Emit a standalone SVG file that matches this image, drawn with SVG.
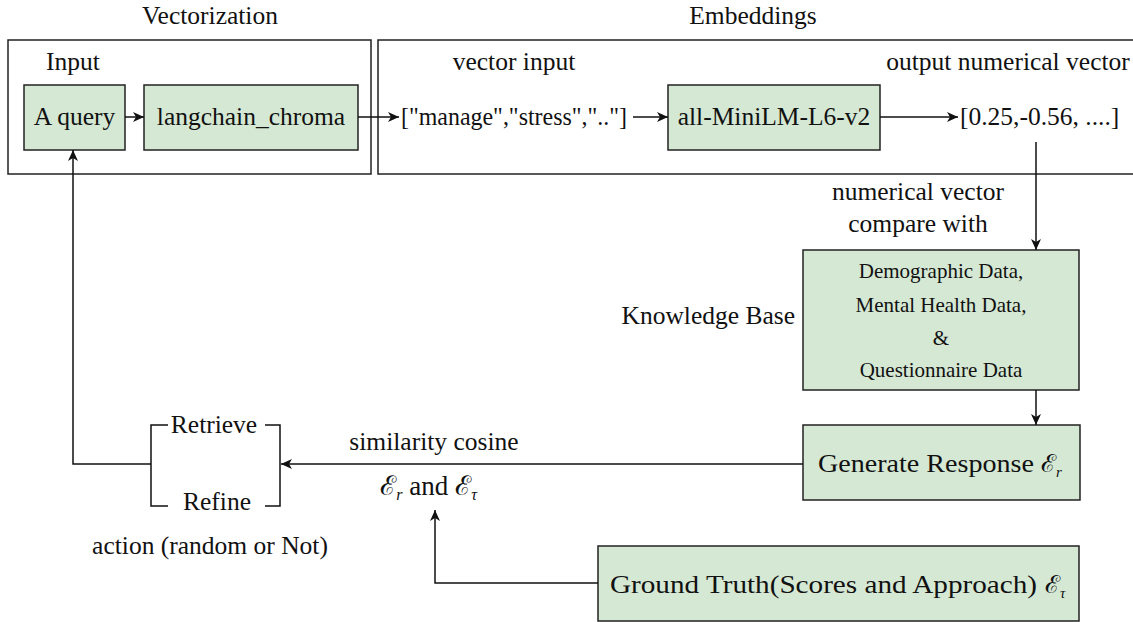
<svg xmlns="http://www.w3.org/2000/svg" width="1133" height="622" viewBox="0 0 1133 622">
<style>
.t{font-family:"Liberation Serif","Times New Roman",serif;font-size:25.5px;fill:#111}
.s{font-family:"Liberation Serif","Times New Roman",serif;font-size:21px;fill:#111}
.m{font-family:"Liberation Serif","DejaVu Serif",serif;font-size:25px;fill:#111}
.frame{fill:#fff;stroke:#222;stroke-width:1.5}
.node{fill:#d5e8d4;stroke:#222;stroke-width:1.5}
.c{fill:none;stroke:#111;stroke-width:1.5}
.cal{font-family:"DejaVu Serif","Noto Sans",serif;font-style:italic}
</style>
<defs>
<marker id="ah" markerUnits="userSpaceOnUse" markerWidth="12" markerHeight="10" refX="11" refY="5" orient="auto">
<path d="M0,0 L11,5 L0,10 L3,5 Z" fill="#111"/>
</marker>
</defs>
<rect width="1133" height="622" fill="#fff"/>
<g id="vectorization">
<text class="t" x="210" y="24" text-anchor="middle">Vectorization</text>
<rect class="frame" x="8" y="40" width="363" height="134"/>
<text class="t" x="73" y="70" text-anchor="middle">Input</text>
</g>
<g id="embeddings">
<text class="t" x="753" y="24" text-anchor="middle">Embeddings</text>
<rect class="frame" x="378" y="40" width="770" height="134"/>
<text class="t" x="514" y="70" text-anchor="middle">vector input</text>
<text class="t" x="1008" y="70" text-anchor="middle">output numerical vector</text>
</g>
<g id="query">
<rect class="node" x="24" y="85" width="101" height="65"/>
<text class="t" x="74.5" y="125" text-anchor="middle">A query</text>
</g>
<g id="langchain">
<rect class="node" x="144" y="85" width="214" height="65"/>
<text class="t" x="251" y="125" text-anchor="middle">langchain_chroma</text>
</g>
<g id="vector-in">
<text class="t" x="401" y="125" textLength="226" lengthAdjust="spacingAndGlyphs">["manage","stress",".."]</text>
</g>
<g id="minilm">
<rect class="node" x="668" y="85" width="212" height="65"/>
<text class="t" x="774" y="125" text-anchor="middle">all-MiniLM-L6-v2</text>
</g>
<g id="vector-out">
<text class="t" x="960" y="125">[0.25,-0.56, ....]</text>
</g>
<g id="compare-label">
<text class="t" x="918" y="200" text-anchor="middle">numerical vector</text>
<text class="t" x="918" y="232" text-anchor="middle">compare with</text>
</g>
<g id="knowledge-base">
<text class="t" x="795" y="324" text-anchor="end">Knowledge Base</text>
<rect class="node" x="803" y="250" width="276" height="140"/>
<text class="s" x="941" y="278" text-anchor="middle">Demographic Data,</text>
<text class="s" x="941" y="312" text-anchor="middle">Mental Health Data,</text>
<text class="s" x="941" y="345" text-anchor="middle">&amp;</text>
<text class="s" x="941" y="377" text-anchor="middle">Questionnaire Data</text>
</g>
<g id="generate">
<rect class="node" x="803" y="425" width="277" height="75"/>
<text class="m" x="818" y="472"><tspan textLength="216" lengthAdjust="spacingAndGlyphs">Generate Response</tspan><tspan class="cal" x="1041">ℰ</tspan><tspan font-size="15" font-style="italic" dy="5">r</tspan></text>
</g>
<g id="ground-truth">
<rect class="node" x="598" y="546" width="481" height="75"/>
<text class="m" x="610" y="593"><tspan textLength="427" lengthAdjust="spacingAndGlyphs">Ground Truth(Scores and Approach)</tspan><tspan class="cal" x="1045">ℰ</tspan><tspan font-size="15" font-style="italic" dy="5">τ</tspan></text>
</g>
<g id="action">
<path class="c" d="M168,425 H151 V506 H168 M265,425 H280 V506 H265"/>
<text class="t" x="214" y="433" text-anchor="middle">Retrieve</text>
<text class="t" x="217" y="510" text-anchor="middle">Refine</text>
<text class="t" x="210" y="554" text-anchor="middle">action (random or Not)</text>
</g>
<g id="similarity-label">
<text class="t" x="434" y="450" text-anchor="middle">similarity cosine</text>
<text class="m" x="380" y="495"><tspan class="cal" font-size="27">ℰ</tspan><tspan font-size="16" font-style="italic" dy="5">r</tspan><tspan dy="-5" font-size="27"> and </tspan><tspan class="cal" font-size="27">ℰ</tspan><tspan font-size="16" font-style="italic" dy="5">τ</tspan></text>
</g>
<g id="connectors">
<path class="c" d="M125,117 H144" marker-end="url(#ah)"/>
<path class="c" d="M358,117 H399" marker-end="url(#ah)"/>
<path class="c" d="M633,117 H668" marker-end="url(#ah)"/>
<path class="c" d="M880,117 H958" marker-end="url(#ah)"/>
<path class="c" d="M1036,142 V250" marker-end="url(#ah)"/>
<path class="c" d="M1036,390 V425" marker-end="url(#ah)"/>
<path class="c" d="M803,464 H281" marker-end="url(#ah)"/>
<path class="c" d="M151,464 H73 V150" marker-end="url(#ah)"/>
<path class="c" d="M598,583 H435 V510" marker-end="url(#ah)"/>
</g>
</svg>
